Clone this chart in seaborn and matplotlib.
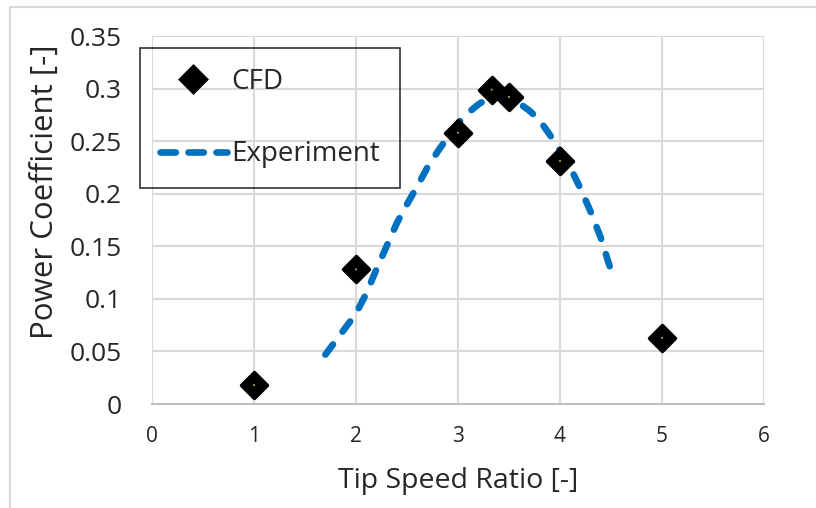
import matplotlib
matplotlib.use("Agg")
import matplotlib.pyplot as plt
import seaborn as sns
import pandas as pd
from matplotlib.patches import Rectangle
from matplotlib.lines import Line2D

# Data
cfd_tsr = [1.0, 2.0, 3.0, 3.33, 3.5, 4.0, 5.0]
cfd_cp = [0.018, 0.128, 0.258, 0.299, 0.292, 0.231, 0.063]

exp_tsr = [1.7, 1.8, 1.9, 2.0, 2.1, 2.2, 2.3, 2.4, 2.5, 2.6, 2.7, 2.8, 2.9, 3.0,
           3.1, 3.2, 3.3, 3.4, 3.5, 3.6, 3.7, 3.8, 3.9, 4.0, 4.1, 4.2, 4.3, 4.4, 4.5]
exp_cp = [0.047, 0.060, 0.073, 0.086, 0.105, 0.128, 0.150, 0.172, 0.190, 0.207,
          0.225, 0.240, 0.254, 0.267, 0.277, 0.285, 0.291, 0.292, 0.290, 0.286,
          0.279, 0.270, 0.256, 0.241, 0.225, 0.205, 0.183, 0.158, 0.127]

x_ticks = [0, 1, 2, 3, 4, 5, 6]
y_ticks = [0, 0.05, 0.1, 0.15, 0.2, 0.25, 0.3, 0.35]
y_tick_labels = ["0", "0.05", "0.1", "0.15", "0.2", "0.25", "0.3", "0.35"]

sns.set_theme(style="white")
plt.rcParams['font.family'] = ['Open Sans', 'DejaVu Sans']

fig = plt.figure(figsize=(8.16, 5.08), dpi=100)
ax = fig.add_axes([152/816, 104/508, 612/816, 368/508])

blue = "#0070C0"
df_exp = pd.DataFrame({"tsr": exp_tsr, "cp": exp_cp})
df_cfd = pd.DataFrame({"tsr": cfd_tsr, "cp": cfd_cp})

sns.lineplot(data=df_exp, x="tsr", y="cp", ax=ax, color=blue, linewidth=4.8,
             sort=False, zorder=3)
ln = ax.lines[-1]
ln.set_dashes((1.9, 2.4))
ln.set_dash_capstyle("round")
ln.set_solid_capstyle("round")

sns.scatterplot(data=df_cfd, x="tsr", y="cp", ax=ax, marker="D", s=175,
                color="black", edgecolor="black", linewidth=2.5, zorder=4)
for c in ax.collections:
    c.set_joinstyle("round")
sns.scatterplot(data=df_cfd, x="tsr", y="cp", ax=ax, marker="o", s=2,
                color="#92D050", edgecolor="none", zorder=5)

ax.set_xlim(0, 6)
ax.set_ylim(0, 0.35)
ax.set_xticks(x_ticks)
ax.set_xticklabels([str(t) for t in x_ticks], fontsize=15)
ax.set_yticks(y_ticks)
ax.set_yticklabels(y_tick_labels, fontsize=19)
ax.tick_params(axis="both", length=0)
ax.tick_params(axis="y", pad=22)
ax.tick_params(axis="x", pad=16)

ax.grid(True, color="#d9d9d9", linewidth=1.5)
ax.set_axisbelow(True)
for s in ["top", "right", "left"]:
    ax.spines[s].set_visible(False)
ax.spines["bottom"].set_color("#bfbfbf")
ax.spines["bottom"].set_linewidth(1.5)

ax.set_xlabel("Tip Speed Ratio [-]", fontsize=20.5, labelpad=14)
ax.set_ylabel("Power Coefficient [-]", fontsize=22.5)
ax.yaxis.set_label_coords((60 - 152) / 612, (404 - 192) / 368)

handles = [
    Line2D([], [], marker="D", color="black", linestyle="none", markersize=13.5,
           markeredgewidth=2.5, markerfacecolor="black"),
    Line2D([], [], color=blue, linewidth=4.8, dashes=(2.3, 1.9),
           dash_capstyle="round"),
]
leg = ax.legend(handles, ["CFD", "Experiment"], loc="upper left",
                bbox_to_anchor=(-12/612, 1 - 12/368), fontsize=20,
                frameon=True, fancybox=False, edgecolor="black",
                facecolor="none", framealpha=None,
                handlelength=2.4, labelspacing=1.6, borderpad=0.72,
                handletextpad=0.18, borderaxespad=0)
leg.get_frame().set_linewidth(1.2)
leg.set_zorder(2)

fig.patches.append(Rectangle((10/816, -0.1), 1.2, 1.1 - 7/508, transform=fig.transFigure,
                             fill=False, edgecolor="#d9d9d9", linewidth=1.5))

fig.savefig("out.png", dpi=100)
